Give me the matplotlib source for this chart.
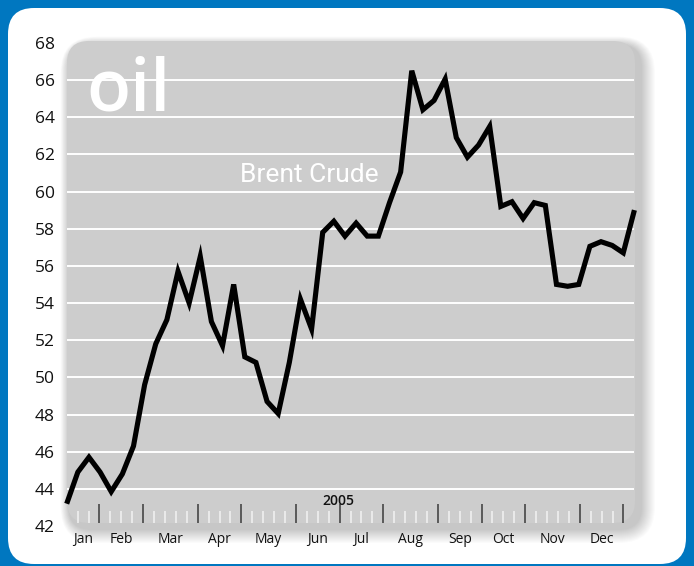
import matplotlib.pyplot as plt
import numpy as np
from matplotlib.patches import FancyBboxPatch
from matplotlib.transforms import Affine2D, blended_transform_factory

plt.rcParams['font.family'] = ['Open Sans', 'DejaVu Sans']

# weekly Brent crude price, 2005 (USD / barrel)
brent = [43.2, 44.9, 45.7, 44.9, 43.85, 44.8, 46.3, 49.6, 51.8, 53.1,
         55.7, 54.0, 56.5, 53.0, 51.7, 55.0, 51.1, 50.8, 48.7, 48.05,
         50.8, 54.2, 52.6, 57.8, 58.4, 57.6, 58.3, 57.6, 57.6, 59.4,
         61.05, 66.5, 64.4, 64.9, 66.05, 62.9, 61.85, 62.5, 63.5, 59.2,
         59.45, 58.55, 59.4, 59.25, 55.0, 54.9, 55.0, 57.05, 57.3, 57.1,
         56.7, 59.0]
months = ['Jan', 'Feb', 'Mar', 'Apr', 'May', 'Jun',
          'Jul', 'Aug', 'Sep', 'Oct', 'Nov', 'Dec']
weeks_in_month = [3, 4, 5, 4, 5, 4, 4, 5, 4, 4, 5, 4]
y_ticks = list(range(42, 69, 2))

W, H = 694, 566
BLUE = '#0077c0'
PANEL = '#cdcdcd'

fig = plt.figure(figsize=(W / 100, H / 100), dpi=100, facecolor=BLUE)
px = Affine2D().scale(1 / 100) + fig.dpi_scale_trans  # pixel coords, origin bottom-left


def rbox(x0, top, x1, bottom, r, **kw):
    p = FancyBboxPatch((x0, H - bottom), x1 - x0, bottom - top,
                       boxstyle=f"round,pad=0,rounding_size={r}",
                       transform=px, **kw)
    fig.patches.append(p)
    return p


# white card
rbox(8, 8, 686, 564, 26, facecolor='white', edgecolor='none', zorder=-10)
# soft shadow behind the grey plot panel
for i in range(14):
    g = 14 - i
    rbox(67 + 2 - g * 0.6, 41 + 4 - g * 0.6, 635 + 6 + g, 523 + 6 + g, 22 + g,
         facecolor='black', edgecolor='none', alpha=0.016, zorder=-9)
rbox(67, 41, 635, 523, 22, facecolor=PANEL, edgecolor='none', zorder=-8)

# axes span: x 66.7..634.4 px, y 41..526 px
ax = fig.add_axes([66.7 / W, 1 - 526 / H, (634.4 - 66.7) / W, 485 / H])
ax.patch.set_visible(False)
for s in ax.spines.values():
    s.set_visible(False)

n_weeks = sum(weeks_in_month) + 1
x = np.linspace(0, n_weeks, len(brent))
ax.plot(x, brent, color='black', lw=3.7, solid_joinstyle='miter',
        solid_capstyle='butt', clip_on=False, zorder=3)

ax.set_xlim(0, n_weeks)
ax.set_ylim(42, 68.1)

# y axis
ax.set_yticks(y_ticks)
ax.tick_params(axis='y', length=0, pad=8.5, labelsize=12.5, labelcolor='#111111')
ax.yaxis.grid(True, color='white', lw=1.4)
ax.set_axisbelow(True)
ticks = ax.yaxis.get_major_ticks()
ticks[0].gridline.set_visible(False)
ticks[-1].gridline.set_visible(False)

# x axis: week ticks, month boundaries as major ticks
bounds = np.concatenate([[0], np.cumsum(weeks_in_month)])
ax.set_xticks(bounds[1:])
ax.set_xticks([k for k in range(1, n_weeks) if k not in bounds], minor=True)
ax.spines['bottom'].set_position(('outward', -2.2))
ax.tick_params(axis='x', which='major', direction='in', length=13.7,
               width=1.1, color='#3a3a3a', labelbottom=False)
ax.tick_params(axis='x', which='minor', direction='in', length=9,
               width=1.1, color='#f2f2f2', labelbottom=False)

tr = blended_transform_factory(ax.transData, ax.transAxes)
for m, a, b in zip(months, bounds[:-1], bounds[1:]):
    ax.text((a + b) / 2, -0.035, m, transform=tr, ha='center', va='baseline',
            fontsize=10, color='#111111')

ax.text(0.478, 0.0433, '2005', transform=ax.transAxes, ha='center',
        va='baseline', fontsize=10, fontweight='semibold', color='#111111')
ax.text(0.035, 0.856, 'oil', transform=ax.transAxes, ha='left',
        va='baseline', fontsize=52, fontweight='semibold', color='white')
ax.text(0.427, 0.709, 'Brent Crude', transform=ax.transAxes, ha='center',
        va='baseline', fontsize=19, color='white', family=['Roboto', 'DejaVu Sans'])

fig.savefig('out.png', dpi=100, facecolor=BLUE)
